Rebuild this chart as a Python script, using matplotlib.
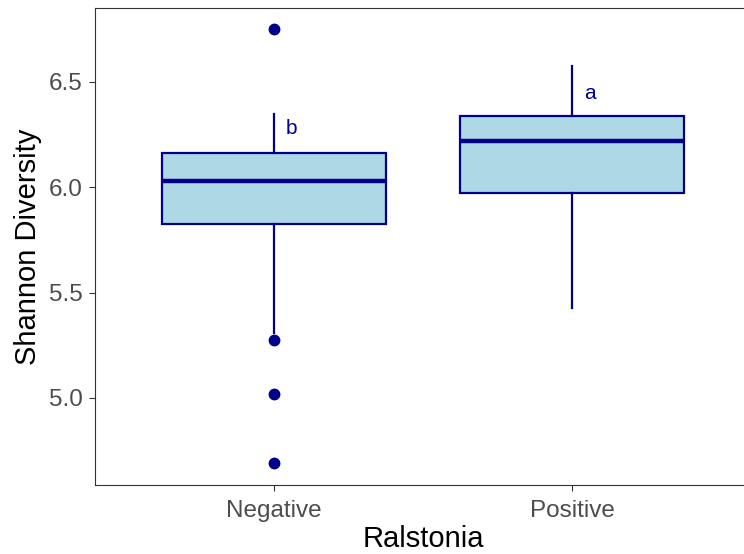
import matplotlib
matplotlib.use("Agg")
import matplotlib.pyplot as plt

# Resumen de cajas
groups = ["Negative", "Positive"]
q1 = [5.824, 5.972]
medians = [6.028, 6.218]
q3 = [6.161, 6.337]
whisker_low = [5.31, 5.425]
whisker_high = [6.347, 6.576]
outliers = [[6.752, 5.274, 5.019, 4.691], []]
letters = ["b", "a"]
letter_y = [6.28, 6.446]

FILL = "#ADD8E6"
EDGE = "#00008B"

plt.rcParams["font.family"] = ["Liberation Sans", "DejaVu Sans"]

fig = plt.figure(figsize=(7.44, 5.54), dpi=100)
ax = fig.add_axes([95 / 744, 1 - 485 / 554, 656 / 744, 477 / 554])

stats = []
for i, g in enumerate(groups):
    stats.append({
        "label": g,
        "q1": q1[i],
        "med": medians[i],
        "q3": q3[i],
        "whislo": whisker_low[i],
        "whishi": whisker_high[i],
        "fliers": outliers[i],
    })

positions = list(range(1, len(groups) + 1))
ax.bxp(
    stats,
    positions=positions,
    widths=0.75,
    showcaps=False,
    patch_artist=True,
    boxprops=dict(facecolor=FILL, edgecolor=EDGE, linewidth=1.6),
    medianprops=dict(color=EDGE, linewidth=3.2, solid_capstyle="butt"),
    whiskerprops=dict(color=EDGE, linewidth=1.6),
    flierprops=dict(marker="o", markerfacecolor=EDGE, markeredgecolor=EDGE,
                    markersize=7.5, linestyle="none"),
)

for p, lab, y in zip(positions, letters, letter_y):
    ax.text(p + 0.06, y, lab, color=EDGE, fontsize=15, ha="center", va="center")

ax.set_xlim(0.4, 2.6)
ax.set_ylim(4.587, 6.851)
ax.set_yticks([5.0, 5.5, 6.0, 6.5])
ax.set_yticklabels(["5.0", "5.5", "6.0", "6.5"])
ax.set_xticks(positions)
ax.set_xticklabels(groups)

for s in ax.spines.values():
    s.set_color("#333333")
    s.set_linewidth(0.8)
ax.tick_params(colors="#333333", length=4.5, width=0.8, labelsize=17.5,
               labelcolor="#4D4D4D")
ax.tick_params(axis="x", pad=6.5)
ax.tick_params(axis="y", pad=4.5)

ax.set_xlabel("Ralstonia", fontsize=21, color="black", labelpad=2)
ax.set_ylabel("Shannon Diversity", fontsize=21, color="black", labelpad=5)

fig.savefig("out.png", dpi=100)
